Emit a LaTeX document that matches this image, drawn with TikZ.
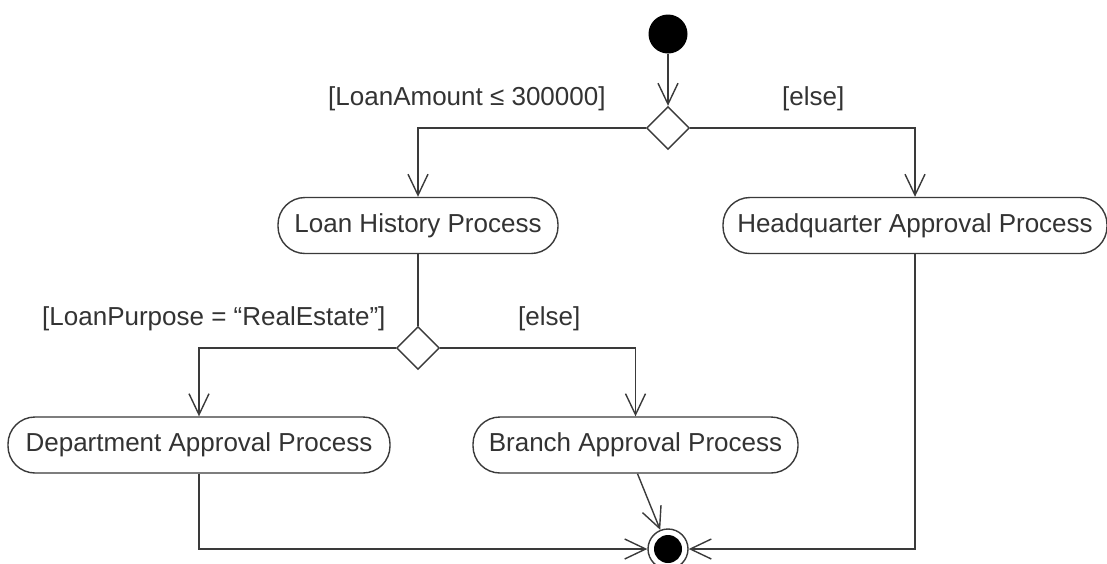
\documentclass[tikz,border=0pt]{standalone}
\usepackage{fontspec}
\setmainfont{Liberation Sans}
\usetikzlibrary{arrows.meta,shapes.geometric}
\definecolor{ink}{HTML}{333333}
\definecolor{wire}{HTML}{3A3A3A}
\begin{document}
\begin{tikzpicture}[x=1pt,y=-1pt,
  font=\fontsize{26}{31}\selectfont,
  action/.style={draw=wire,line width=1.4pt,rounded corners=27pt,
    minimum height=56pt,inner sep=0pt,text=ink,fill=white},
  choice/.style={draw=wire,line width=1.4pt,diamond,aspect=1,
    minimum size=43pt,inner sep=0pt,fill=white},
  guard/.style={text=ink,inner sep=0pt},
  flow/.style={draw=wire,line width=1.4pt,
    -{Straight Barb[length=21pt,width=20pt,line width=1.4pt]}},
  plain/.style={draw=wire,line width=1.4pt}]
\useasboundingbox (0,0) rectangle (1107,563);
\fill[white] (0,0) rectangle (1107,563);

% start, decisions, final
\node (start) [circle,fill=black,minimum size=39pt,inner sep=0pt] at (668,34) {};
\node (d1) [choice] at (668,128) {};
\node (d2) [choice] at (418,348) {};
\node (endo) [circle,draw=wire,line width=1.4pt,fill=white,minimum size=40pt,inner sep=0pt] at (668,549) {};
\node (endi) [circle,fill=black,minimum size=28pt,inner sep=0pt] at (668,549) {};

% actions
\node (lh) [action,minimum width=280pt] at (418,225.5) {Loan History Process};
\node (hq) [action,minimum width=384pt] at (915,225.5) {Headquarter Approval Process};
\node (dep) [action,minimum width=382pt] at (199,445) {Department Approval Process};
\node (br) [action,minimum width=325pt] at (635.5,445) {Branch Approval Process};

% guards
\node (g1) [guard,anchor=base west] at (328,105) {[LoanAmount ≤ 300000]};
\node (g2) [guard,anchor=base west] at (782,105) {[else]};
\node (g3) [guard,anchor=base west] at (42,325) {[LoanPurpose = “RealEstate”]};
\node (g4) [guard,anchor=base west] at (518,325) {[else]};

% flows
\draw[flow] (start) -- (d1.north);
\draw[flow] (d1.west) -| (lh.north);
\draw[flow] (d1.east) -| (hq.north);
\draw[plain] (lh.south) -- (d2.north);
\draw[flow] (d2.west) -| (dep.north);
\draw[flow] (d2.east) -| (br.north);
\draw[flow] (dep.south) |- (endo.west);
\draw[flow] (hq.south) |- (endo.east);
\draw[flow] ([xshift=2pt]br.south) -- (endo);
\end{tikzpicture}
\end{document}
